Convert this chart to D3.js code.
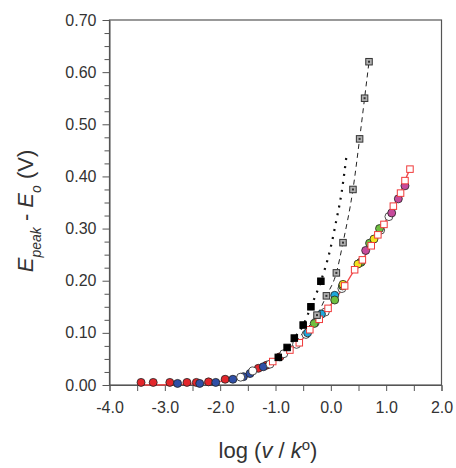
<!DOCTYPE html>
<html>
<head>
<meta charset="utf-8">
<script src="https://cdn.jsdelivr.net/npm/d3@7"></script>
<style>
  body { margin: 0; background: #fff; }
  svg text { font-family: "Liberation Sans", Arial, sans-serif; }
</style>
</head>
<body>
<svg id="chart" width="456" height="468"></svg>
<script>
// 数据：log(v/k°) 与 Epeak - Eo
const xTicks = [-4, -3, -2, -1, 0, 1, 2];
const yTicks = [0, 0.1, 0.2, 0.3, 0.4, 0.5, 0.6, 0.7];

// 红色空心方块 + 红线
const redSquares = [[-1.05,0.045],[-0.74,0.067],[-0.57,0.081],[-0.38,0.106],[-0.21,0.126],[-0.05,0.147],
  [0.25,0.19],[0.43,0.221],[0.57,0.24],[0.73,0.267],[0.85,0.288],[0.96,0.308],[1.13,0.343],[1.26,0.368],
  [1.34,0.392],[1.43,0.414]];
const redLineLow = [[-3.4,0.0],[-2.8,0.001],[-2.3,0.003],[-1.9,0.009],[-1.5,0.02]];

// 黑色实心方块 + 点线
const blackSquares = [[-0.95,0.053],[-0.79,0.072],[-0.66,0.09],[-0.5,0.115],[-0.36,0.15],[-0.18,0.199]];
const dottedLine = [[-1.0,0.048],[-0.79,0.072],[-0.66,0.09],[-0.5,0.115],[-0.36,0.15],[-0.18,0.199],
  [0.0,0.265],[0.1,0.316],[0.19,0.366],[0.28,0.437]];

// 灰色方块 + 虚线
const graySquares = [[-0.25,0.134],[-0.08,0.171],[0.1,0.215],[0.22,0.273],[0.4,0.375],[0.52,0.472],[0.61,0.55],[0.69,0.62]];
const grayLineLow = [[-0.75,0.07],[-0.5,0.1]];

// 各色圆点
const redCircles = [[-3.43,0.005],[-3.21,0.005],[-2.91,0.005],[-2.6,0.005],[-2.43,0.005],[-2.21,0.006],
  [-1.91,0.011],[-1.31,0.032],[-1.16,0.038],[-0.92,0.054]];
const blueCircles = [[-2.77,0.003],[-2.37,0.003],[-2.08,0.005],[-1.77,0.011],[-1.58,0.016],[-1.46,0.022],[-1.22,0.035]];
const whiteCircles = [[-1.63,0.015],[-1.41,0.027],[-1.1,0.04],[-0.85,0.06],[-0.62,0.078],[-0.45,0.097],
  [-0.28,0.12],[-0.1,0.14],[0.2,0.185],[0.55,0.236],[0.9,0.297],[1.05,0.323]];
const cyanCircles = [[-0.42,0.1],[-0.17,0.136],[0.07,0.172]];
const greenCircles = [[-0.3,0.118],[0.07,0.163],[0.21,0.19],[0.54,0.235],[0.7,0.272],[0.88,0.3]];
const yellowCircles = [[0.22,0.193],[0.49,0.232],[0.78,0.28]];
const magentaCircles = [[0.63,0.258],[1.1,0.33],[1.22,0.357],[1.34,0.382]];

const svg = d3.select("#chart");
const plotL = 109.5, plotR = 441.5, plotT = 20, plotB = 385;

const x = d3.scaleLinear().domain([-4, 2]).range([plotL, plotR]);
const y = d3.scaleLinear().domain([0, 0.7]).range([plotB, plotT]);

const axisColor = "#555";
const labelColor = "#333";
const isMajor = d => yTicks.some(t => Math.abs(t - d) < 1e-6);

// 边框
svg.append("rect")
  .attr("x", plotL).attr("y", plotT)
  .attr("width", plotR - plotL).attr("height", plotB - plotT)
  .attr("fill", "none").attr("stroke", axisColor).attr("stroke-width", 1.2);

// x 轴
const xAxis = svg.append("g")
  .attr("transform", `translate(0,${plotB})`)
  .call(d3.axisBottom(x).tickValues(d3.range(-4, 2.01, 0.5)).tickSize(6)
    .tickFormat(d => xTicks.includes(d) ? d.toFixed(1) : ""));
xAxis.select(".domain").attr("stroke", axisColor);
xAxis.selectAll("line").attr("stroke", axisColor);
xAxis.selectAll("text").attr("fill", labelColor).attr("font-size", 16).attr("dy", "1.2em")
  .attr("font-family", "Liberation Sans, Arial, sans-serif");

// y 轴（次刻度 0.025）
const yAxis = svg.append("g")
  .attr("transform", `translate(${plotL},0)`)
  .call(d3.axisLeft(y).tickValues(d3.range(0, 0.7001, 0.025)).tickSize(5)
    .tickFormat(d => isMajor(d) ? d.toFixed(2) : ""));
yAxis.select(".domain").attr("stroke", axisColor);
yAxis.selectAll("line").attr("stroke", axisColor)
  .attr("x2", d => isMajor(d) ? -7 : -5);
yAxis.selectAll("text").attr("fill", labelColor).attr("font-size", 16).attr("x", -13)
  .attr("font-family", "Liberation Sans, Arial, sans-serif");

// 坐标轴标题
const xt = svg.append("text")
  .attr("x", 268).attr("y", 458)
  .attr("text-anchor", "middle").attr("font-size", 22).attr("fill", labelColor);
xt.append("tspan").text("log (");
xt.append("tspan").attr("font-style", "italic").text("v");
xt.append("tspan").text(" / ");
xt.append("tspan").attr("font-style", "italic").text("k");
xt.append("tspan").attr("baseline-shift", "super").attr("font-size", 15).text("o");
xt.append("tspan").text(")");

const yt = svg.append("text")
  .attr("transform", "translate(33,211) rotate(-90)")
  .attr("text-anchor", "middle").attr("font-size", 22).attr("fill", labelColor);
yt.append("tspan").attr("font-style", "italic").text("E");
yt.append("tspan").attr("font-style", "italic").attr("baseline-shift", "sub").attr("font-size", 14).text("peak");
yt.append("tspan").text(" - ");
yt.append("tspan").attr("font-style", "italic").text("E");
yt.append("tspan").attr("font-style", "italic").attr("baseline-shift", "sub").attr("font-size", 14).text("o");
yt.append("tspan").text(" (V)");

const line = d3.line().x(d => x(d[0])).y(d => y(d[1])).curve(d3.curveMonotoneX);

// 曲线
svg.append("path").datum(redLineLow.concat(redSquares)).attr("d", line)
  .attr("fill", "none").attr("stroke", "#f0484a").attr("stroke-width", 1.3);
svg.append("path").datum(grayLineLow.concat(graySquares)).attr("d", line)
  .attr("fill", "none").attr("stroke", "#222").attr("stroke-width", 1).attr("stroke-dasharray", "5,4");
svg.append("path").datum(dottedLine).attr("d", line)
  .attr("fill", "none").attr("stroke", "#111").attr("stroke-width", 2.2).attr("stroke-dasharray", "2,6");

// 圆点
function circles(data, fill) {
  svg.append("g").selectAll("circle").data(data).join("circle")
    .attr("cx", d => x(d[0])).attr("cy", d => y(d[1])).attr("r", 4)
    .attr("fill", fill).attr("stroke", "#222").attr("stroke-width", 0.8);
}
circles(redCircles, "#e3262b");
circles(blueCircles, "#2f4fa6");
circles(whiteCircles, "#fff");
circles(cyanCircles, "#1ea8dc");
circles(greenCircles, "#6fbf3f");
circles(yellowCircles, "#f2e21e");
circles(magentaCircles, "#c64b9c");

// 方块
function squares(data, fill, stroke, s) {
  svg.append("g").selectAll("rect").data(data).join("rect")
    .attr("x", d => x(d[0]) - s / 2).attr("y", d => y(d[1]) - s / 2)
    .attr("width", s).attr("height", s)
    .attr("fill", fill).attr("stroke", stroke).attr("stroke-width", 1);
}
squares(redSquares, "#fff", "#f03a3a", 6.5);
squares(blackSquares, "#000", "#000", 6.5);
squares(graySquares, "#b0b0b0", "#333", 6.5);
// 灰色方块内的小点
svg.append("g").selectAll("rect").data(graySquares).join("rect")
  .attr("x", d => x(d[0]) - 1).attr("y", d => y(d[1]) - 1)
  .attr("width", 2).attr("height", 2).attr("fill", "#333");
</script>
</body>
</html>
